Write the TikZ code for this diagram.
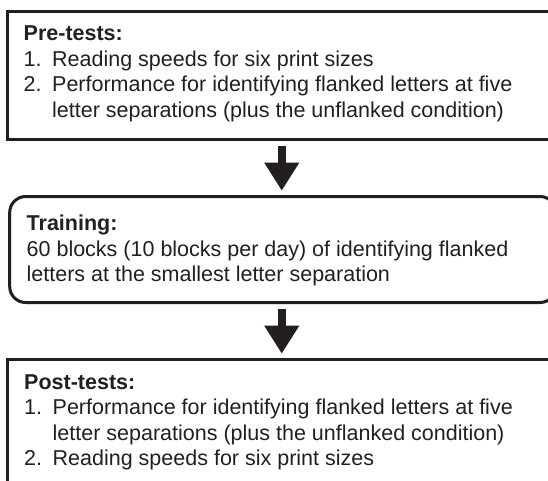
\documentclass[tikz,border=0pt]{standalone}
\usepackage{fontspec}
\setmainfont{Liberation Sans}
\usetikzlibrary{arrows.meta}

\definecolor{ink}{HTML}{231F20}

\tikzset{
  stagebox/.style={draw=ink, line width=3pt, inner sep=0pt, outer sep=0pt, fill=white},
  flowarrow/.style={draw=ink, line width=8pt, -{Triangle[width=33pt,length=28pt]}},
  boxtext/.style={anchor=base west, inner sep=0pt, text=ink}
}

\newcommand{\boxfont}{\fontsize{21.5}{25.5}\selectfont}
\newcommand{\itemnum}[1]{\makebox[28.5pt][l]{#1}}
\newcommand{\itemcont}{\hspace*{28.5pt}}

\begin{document}
\begin{tikzpicture}[x=1pt,y=-1pt]
  \clip (0,0) rectangle (548,480);
  \fill[white] (0,0) rectangle (548,480);

  % the three stages
  \node[stagebox, minimum width=548.5pt, minimum height=128pt] (pre) at (281.75,75) {};
  \node[stagebox, rounded corners=16pt, minimum width=546.3pt, minimum height=106pt] (train) at (282.85,249.5) {};
  \node[stagebox, minimum width=548.5pt, minimum height=131pt] (post) at (281.75,425) {};

  % stage texts
  \node[boxtext] (pretext) at (23.5,40.7) {\parbox[t]{520pt}{\boxfont\raggedright
    \textbf{Pre-tests:}\\
    \itemnum{1.}Reading speeds for six print sizes\\
    \itemnum{2.}Performance for identifying flanked letters at five\\
    \itemcont letter separations (plus the unflanked condition)}};

  \node[boxtext] (traintext) at (26.5,230.7) {\parbox[t]{520pt}{\boxfont\raggedright
    \textbf{Training:}\\
    60 blocks (10 blocks per day) of identifying flanked\\
    letters at the smallest letter separation}};

  \node[boxtext] (posttext) at (24,389.3) {\parbox[t]{520pt}{\boxfont\raggedright
    \textbf{Post-tests:}\\
    \itemnum{1.}Performance for identifying flanked letters at five\\
    \itemcont letter separations (plus the unflanked condition)\\
    \itemnum{2.}Reading speeds for six print sizes}};

  % block arrows between stages
  \draw[flowarrow, shorten <=7pt, shorten >=5.8pt] (pre.south) -- (pre.south |- train.north);
  \draw[flowarrow, shorten <=6.5pt, shorten >=5.8pt] (pre.south |- train.south) -- (pre.south |- post.north);
\end{tikzpicture}
\end{document}
